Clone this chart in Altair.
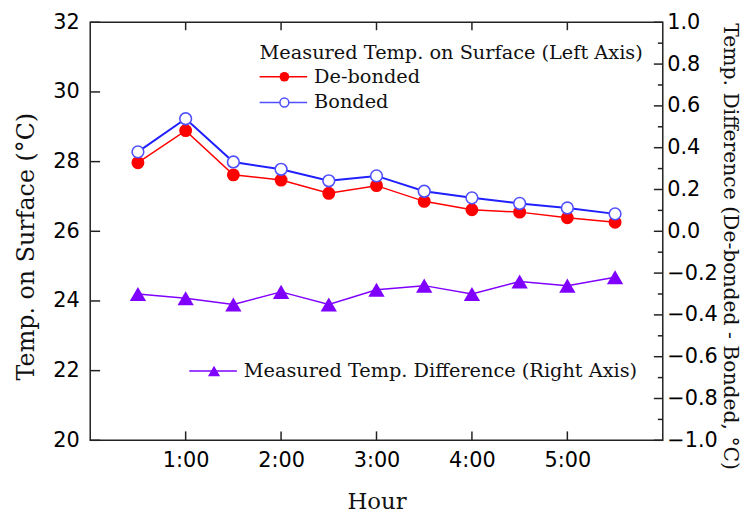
import altair as alt
import pandas as pd

# ---- data ----
hours = [0.5, 1.0, 1.5, 2.0, 2.5, 3.0, 3.5, 4.0, 4.5, 5.0, 5.5]
debonded = [27.97, 28.89, 27.62, 27.47, 27.09, 27.31, 26.86, 26.62, 26.55, 26.39, 26.26]
bonded = [28.28, 29.23, 27.99, 27.78, 27.45, 27.59, 27.15, 26.96, 26.80, 26.67, 26.50]
difference = [-0.30, -0.32, -0.35, -0.29, -0.35, -0.28, -0.26, -0.30, -0.24, -0.26, -0.22]

x_ticks = [1, 2, 3, 4, 5]
left_ticks = [20, 22, 24, 26, 28, 30, 32]
right_major = [-1.0, -0.8, -0.6, -0.4, -0.2, 0.0, 0.2, 0.4, 0.6, 0.8, 1.0]
right_minor = [-0.9, -0.7, -0.5, -0.3, -0.1, 0.1, 0.3, 0.5, 0.7, 0.9]

W, H = 578, 422
FRAME = "#222222"
RED = "#ff0000"
BLUE = "#2020ff"
BLUE_M = "#5050ff"
PURPLE = "#7f00ff"

df = pd.DataFrame({"hour": hours, "debonded": debonded, "bonded": bonded, "diff": difference})
df_xt = pd.DataFrame({"hour": x_ticks})
df_lt = pd.DataFrame({"temp": left_ticks})
df_rmaj = pd.DataFrame({"diff": right_major})
df_rmin = pd.DataFrame({"diff": right_minor})
one = pd.DataFrame({"k": [0]})

xsc = alt.Scale(domain=[0, 6], nice=False, zero=False)
xaxis = alt.Axis(values=x_ticks, labelExpr="datum.value + ':00'", ticks=False, tickSize=0,
                 domain=False, grid=False, labelFont="DejaVu Sans", labelFontSize=21,
                 labelColor="black", labelPadding=9, titleFont="DejaVu Serif",
                 titleFontSize=23, titleFontWeight="normal", titleColor="#111111",
                 titleY=69, titleBaseline="alphabetic")
X = alt.X("hour:Q", scale=xsc, axis=xaxis, title="Hour")

ylsc = alt.Scale(domain=[20, 32], nice=False, zero=False)
ylaxis = alt.Axis(orient="left", values=left_ticks, ticks=False, tickSize=0, domain=False,
                  grid=False, labelFont="DejaVu Sans", labelFontSize=21, labelColor="black",
                  labelPadding=11, titleFont="DejaVu Serif", titleFontSize=24,
                  titleFontWeight="normal", titleColor="#111111", titleAngle=270,
                  titleX=-64, titleY=226, titleBaseline="middle", titleAlign="center")
YT = "Temp. on Surface (°C)"

yrsc = alt.Scale(domain=[-1, 1], nice=False, zero=False)
yraxis = alt.Axis(orient="right", values=right_major, format=".1f", ticks=False, tickSize=0,
                  domain=False, grid=False, labelFont="DejaVu Sans", labelFontSize=21,
                  labelColor="black", labelPadding=4, labelAlign="left",
                  titleFont="DejaVu Serif", titleFontSize=20.5, titleFontWeight="normal",
                  titleColor="#111111", titleAngle=90, titleX=67, titleY=226,
                  titleBaseline="middle", titleAlign="center")
YR = "Temp. Difference (De-bonded - Bonded, °C)"

base = alt.Chart(df)

red_line = base.mark_line(color=RED, strokeWidth=1.5).encode(
    x=X, y=alt.Y("debonded:Q", scale=ylsc, axis=ylaxis, title=YT))
red_pts = base.mark_point(shape="circle", filled=True, size=170, color=RED, opacity=1).encode(
    x=X, y=alt.Y("debonded:Q", scale=ylsc, axis=ylaxis, title=YT))
blue_line = base.mark_line(color=BLUE, strokeWidth=2).encode(
    x=X, y=alt.Y("bonded:Q", scale=ylsc, axis=ylaxis, title=YT))
blue_pts = base.mark_point(shape="circle", filled=True, size=140, fill="white", stroke=BLUE_M,
                           strokeWidth=1.6, opacity=1).encode(
    x=X, y=alt.Y("bonded:Q", scale=ylsc, axis=ylaxis, title=YT))

left_tk = alt.Chart(df_lt).mark_rule(color=FRAME, strokeWidth=1.5).encode(
    y=alt.Y("temp:Q", scale=ylsc, axis=ylaxis, title=YT), x=alt.value(0), x2=alt.value(10))
top_tk = alt.Chart(df_xt).mark_rule(color=FRAME, strokeWidth=1.5).encode(
    x=X, y=alt.value(0), y2=alt.value(8))
bot_tk = alt.Chart(df_xt).mark_rule(color=FRAME, strokeWidth=1.5).encode(
    x=X, y=alt.value(H - 9), y2=alt.value(H))

# legend (inside the plot)
LF = dict(font="DejaVu Serif", fontSize=19.5, color="#111111", align="left", baseline="middle")
leg_head = alt.Chart(one).mark_text(text="Measured Temp. on Surface (Left Axis)", **LF).encode(
    x=alt.value(171), y=alt.value(31))
leg_r_line = alt.Chart(one).mark_rule(color=RED, strokeWidth=1.5).encode(
    x=alt.value(171), x2=alt.value(219), y=alt.value(55))
leg_r_pt = alt.Chart(one).mark_point(shape="circle", filled=True, size=95, color=RED, opacity=1).encode(
    x=alt.value(196), y=alt.value(55))
leg_r_txt = alt.Chart(one).mark_text(text="De-bonded", **LF).encode(x=alt.value(226), y=alt.value(55))
leg_b_line = alt.Chart(one).mark_rule(color=BLUE_M, strokeWidth=1.5).encode(
    x=alt.value(171), x2=alt.value(219), y=alt.value(81))
leg_b_pt = alt.Chart(one).mark_point(shape="circle", filled=True, size=80, fill="white", stroke=BLUE_M,
                                     strokeWidth=1.5, opacity=1).encode(
    x=alt.value(196), y=alt.value(81))
leg_b_txt = alt.Chart(one).mark_text(text="Bonded", **LF).encode(x=alt.value(226), y=alt.value(81))
leg_p_line = alt.Chart(one).mark_rule(color=PURPLE, strokeWidth=1.5).encode(
    x=alt.value(100), x2=alt.value(148), y=alt.value(352))
leg_p_pt = alt.Chart(one).mark_point(shape="triangle-up", filled=True, size=150, color=PURPLE, opacity=1).encode(
    x=alt.value(125), y=alt.value(352))
leg_p_txt = alt.Chart(one).mark_text(text="Measured Temp. Difference (Right Axis)", **LF).encode(
    x=alt.value(155), y=alt.value(352))

group_left = alt.layer(red_line, red_pts, blue_line, blue_pts, left_tk, top_tk, bot_tk,
                       leg_head, leg_r_line, leg_r_pt, leg_r_txt,
                       leg_b_line, leg_b_pt, leg_b_txt,
                       leg_p_line, leg_p_pt, leg_p_txt)

purple_line = base.mark_line(color=PURPLE, strokeWidth=1.5).encode(
    x=X, y=alt.Y("diff:Q", scale=yrsc, axis=yraxis, title=YR))
purple_pts = base.mark_point(shape="triangle-up", filled=True, size=270, color=PURPLE, opacity=1).encode(
    x=X, y=alt.Y("diff:Q", scale=yrsc, axis=yraxis, title=YR))
rmaj = alt.Chart(df_rmaj).mark_rule(color=FRAME, strokeWidth=1.5).encode(
    y=alt.Y("diff:Q", scale=yrsc, axis=yraxis, title=YR), x=alt.value(W - 9), x2=alt.value(W))
rmin = alt.Chart(df_rmin).mark_rule(color=FRAME, strokeWidth=1.5).encode(
    y=alt.Y("diff:Q", scale=yrsc, axis=yraxis, title=YR), x=alt.value(W - 5), x2=alt.value(W))

group_right = alt.layer(purple_line, purple_pts, rmaj, rmin)

chart = alt.layer(group_left, group_right).resolve_scale(y="independent").properties(
    width=W, height=H,
    autosize=alt.AutoSizeParams(type="none"),
    padding={"left": 83, "top": 12, "right": 83, "bottom": 74},
    background="white",
).configure_view(stroke=FRAME, strokeWidth=1.5)

chart.save("out.html", embed_options={"renderer": "svg", "actions": False})
